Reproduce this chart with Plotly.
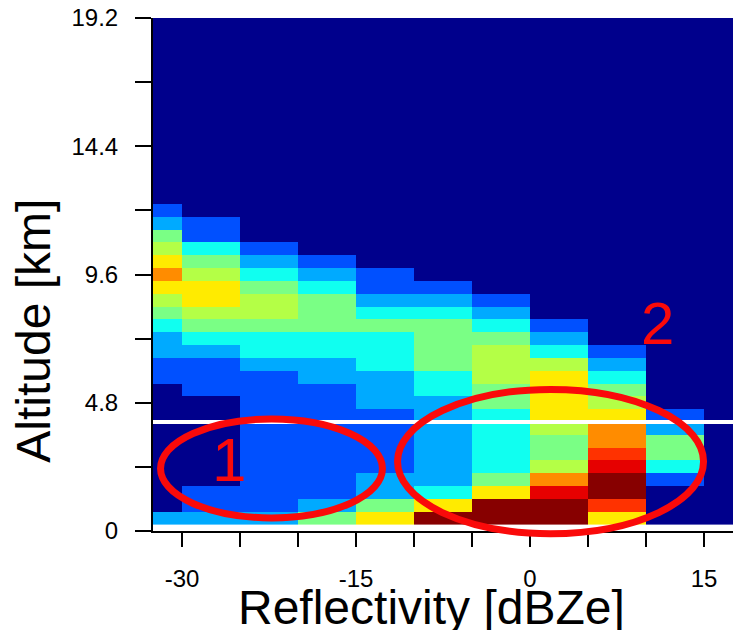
import plotly.graph_objects as go

# ---------------- data ----------------
# reflectivity bin centres (dBZe), 5 dBZ wide
reflectivity_bins = [-32.5, -27.5, -22.5, -17.5, -12.5, -7.5, -2.5, 2.5, 7.5, 12.5, 17.5]
# altitude bin centres (km), 0.48 km wide
altitude_bins = [0.48, 0.96, 1.44, 1.92, 2.40, 2.88, 3.36, 3.84, 4.32, 4.80,
                 5.28, 5.76, 6.24, 6.72, 7.20, 7.68, 8.16, 8.64, 9.12, 9.60,
                 10.08, 10.56, 11.04, 11.52, 12.00, 12.48, 12.96, 13.44, 13.92, 14.40,
                 14.88, 15.36, 15.84, 16.32, 16.80, 17.28, 17.76, 18.24, 18.72, 19.20]

# frequency class (0 = none ... 10 = highest) per altitude bin, bottom-up, one list per reflectivity bin
freq_m32_5 = [2, 0, 0, 0, 0, 0, 0, 0, 0, 0, 0, 1, 1, 2, 2, 3, 4, 5, 6, 7, 6, 5, 4, 2, 1]
freq_m27_5 = [2, 1, 1, 0, 0, 0, 0, 0, 0, 0, 1, 1, 1, 2, 3, 4, 5, 6, 6, 5, 4, 3, 1, 1]
freq_m22_5 = [2, 1, 1, 1, 1, 1, 1, 1, 1, 1, 1, 1, 2, 3, 3, 4, 5, 5, 4, 3, 2, 1]
freq_m17_5 = [4, 2, 1, 1, 1, 1, 1, 1, 1, 1, 1, 2, 2, 3, 3, 4, 4, 4, 3, 2, 1]
freq_m12_5 = [6, 4, 2, 2, 1, 1, 1, 1, 1, 2, 2, 2, 3, 3, 3, 4, 3, 2, 1, 1]
freq_m7_5 = [10, 6, 3, 2, 2, 2, 2, 2, 2, 2, 3, 3, 4, 4, 4, 4, 3, 2, 1]
freq_m2_5 = [10, 10, 6, 4, 3, 3, 3, 3, 3, 4, 4, 5, 5, 5, 4, 3, 2, 1]
freq_p2_5 = [10, 10, 9, 7, 5, 4, 4, 5, 6, 6, 6, 6, 5, 3, 2, 1]
freq_p7_5 = [6, 8, 10, 10, 9, 8, 7, 7, 6, 5, 4, 3, 2, 1]
freq_p12_5 = [0, 0, 0, 1, 3, 4, 4, 2, 1]
freq_p17_5 = [0]

# tick labels
x_tick_vals = [-30, -25, -20, -15, -10, -5, 0, 5, 10, 15]
x_tick_text = ["-30", "", "", "-15", "", "", "0", "", "", "15"]
y_tick_vals = [0, 2.4, 4.8, 7.2, 9.6, 12.0, 14.4, 16.8, 19.2]
y_tick_text = ["0", "", "4.8", "", "9.6", "", "14.4", "", "19.2"]

melting_level_km = 4.08

# ---------------- build ----------------
columns = [freq_m32_5, freq_m27_5, freq_m22_5, freq_m17_5, freq_m12_5, freq_m7_5,
           freq_m2_5, freq_p2_5, freq_p7_5, freq_p12_5, freq_p17_5]
z = [[col[r] if r < len(col) else 0 for col in columns] for r in range(len(altitude_bins))]

level_colors = ["#00008c", "#0050ff", "#00aaff", "#10fff0", "#7aff85", "#b4ff46",
                "#ffeb00", "#ff8c00", "#ff3200", "#e60000", "#870000"]
colorscale = [[i / (len(level_colors) - 1), c] for i, c in enumerate(level_colors)]

X_RANGE = [-32.5, 17.5]
Y_RANGE = [0, 19.2]


def px(v):
    return (v - X_RANGE[0]) / (X_RANGE[1] - X_RANGE[0])


def py(v):
    return (v - Y_RANGE[0]) / (Y_RANGE[1] - Y_RANGE[0])


fig = go.Figure(go.Heatmap(
    x=reflectivity_bins, y=altitude_bins, z=z,
    colorscale=colorscale, zmin=0, zmax=len(level_colors) - 1,
    showscale=False, zsmooth=False,
))

FONT = "Liberation Sans, Arial, Helvetica, sans-serif"
RED = "#fa0a0a"

fig.update_layout(
    width=733, height=630,
    margin=dict(l=153, r=0, t=18, b=99),
    paper_bgcolor="white", plot_bgcolor="white",
    font=dict(family=FONT, color="black"),
    showlegend=False,
    xaxis=dict(range=X_RANGE, tickvals=x_tick_vals, ticktext=x_tick_text,
               ticks="outside", ticklen=14, tickwidth=2, tickcolor="black",
               showline=True, linecolor="black", linewidth=2,
               showgrid=False, zeroline=False, ticklabelstandoff=11,
               tickfont=dict(size=24, family=FONT, color="black")),
    yaxis=dict(range=Y_RANGE, tickvals=y_tick_vals, ticktext=y_tick_text,
               ticks="outside", ticklen=16, tickwidth=2, tickcolor="black",
               showline=True, linecolor="black", linewidth=2,
               showgrid=False, zeroline=False, ticklabelstandoff=12,
               tickfont=dict(size=24, family=FONT, color="black")),
    shapes=[
        dict(type="line", xref="x", yref="y", x0=X_RANGE[0], x1=X_RANGE[1],
             y0=melting_level_km, y1=melting_level_km,
             line=dict(color="white", width=4), layer="above"),
        dict(type="circle", xref="paper", yref="paper",
             x0=px(-31.85), x1=px(-12.72), y0=py(0.49), y1=py(4.19),
             line=dict(color=RED, width=7), layer="above"),
        dict(type="circle", xref="paper", yref="paper",
             x0=px(-11.42), x1=px(14.96), y0=py(-0.10), y1=py(5.30),
             line=dict(color=RED, width=7), layer="above"),
    ],
    annotations=[
        dict(text="1", x=-25.95, y=2.66, xref="x", yref="y", showarrow=False,
             xanchor="center", yanchor="middle", font=dict(size=62, color=RED, family=FONT)),
        dict(text="2", x=11.0, y=7.77, xref="x", yref="y", showarrow=False,
             xanchor="center", yanchor="middle", font=dict(size=60, color=RED, family=FONT)),
        dict(text="Reflectivity [dBZe]", x=px(-8.45), y=-0.150, xref="paper", yref="paper",
             showarrow=False, xanchor="center", yanchor="middle",
             font=dict(size=48, color="black", family=FONT)),
        dict(text="Altitude [km]", x=-0.205, y=py(7.5), xref="paper", yref="paper",
             showarrow=False, textangle=-90, xanchor="center", yanchor="middle",
             font=dict(size=48, color="black", family=FONT)),
    ],
)

fig.write_html(
    "out.html",
    config={"displayModeBar": False},
    post_script="document.body.style.margin='0px';document.body.style.overflow='hidden';",
)
